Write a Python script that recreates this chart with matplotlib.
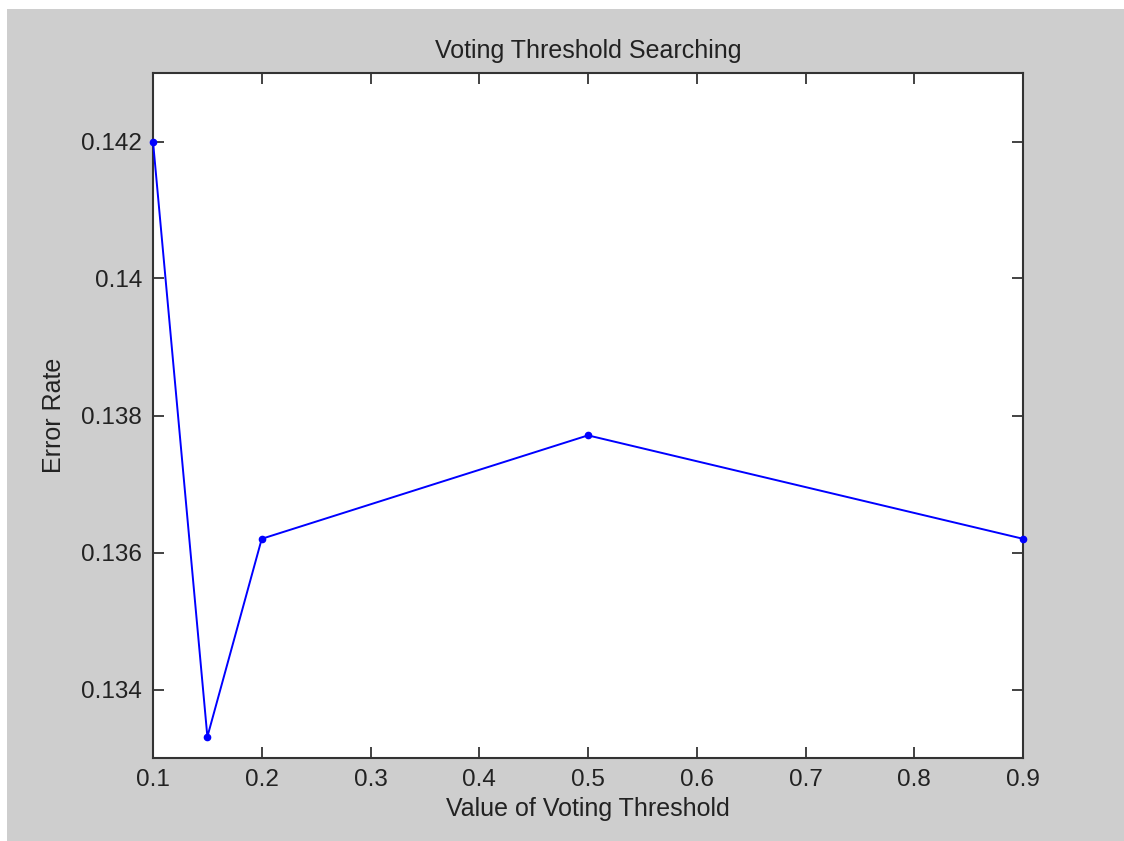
import matplotlib
matplotlib.use("Agg")
import matplotlib.pyplot as plt
from matplotlib.patches import Rectangle

thresholds = [0.1, 0.15, 0.2, 0.5, 0.9]
error_rate = [0.1420, 0.13331, 0.13620, 0.13771, 0.13620]
xticks = [0.1, 0.2, 0.3, 0.4, 0.5, 0.6, 0.7, 0.8, 0.9]
yticks = [0.134, 0.136, 0.138, 0.140, 0.142]
ytick_labels = ["0.134", "0.136", "0.138", "0.14", "0.142"]

W, H = 1124, 841
fig = plt.figure(figsize=(W / 100, H / 100), dpi=100, facecolor="white")
plt.rcParams['font.family'] = ['Liberation Sans', 'DejaVu Sans']

# gray background (MATLAB-style) with a thin white margin top/left
fig.patches.append(Rectangle((7 / W, 0), 1 - 7 / W, 1 - 9 / H,
                             transform=fig.transFigure, facecolor="#cecece",
                             edgecolor="none", zorder=-10))

left, right, top, bottom = 153, 1023, 73, 758
ax = fig.add_axes([left / W, 1 - bottom / H, (right - left) / W, (bottom - top) / H])
ax.set_facecolor("white")

ax.plot(thresholds, error_rate, color="#0000ff", linewidth=1.4,
        marker='o', markersize=4.5, clip_on=False, zorder=5)

ax.set_xlim(0.1, 0.9)
ax.set_ylim(0.133, 0.143)
ax.set_xticks(xticks)
ax.set_xticklabels([f"{v:g}" for v in xticks])
ax.set_yticks(yticks)
ax.set_yticklabels(ytick_labels)
ax.tick_params(direction="in", length=8, width=1.2, top=True, right=True,
               labelsize=17.5, colors="#222222", pad=8)
for s in ax.spines.values():
    s.set_linewidth(1.5)
    s.set_color("#333333")

ax.set_title("Voting Threshold Searching", fontsize=18, color="#222222", pad=11)
ax.set_xlabel("Value of Voting Threshold", fontsize=18, color="#222222", labelpad=4)
ax.set_ylabel("Error Rate", fontsize=18, color="#222222", labelpad=11)

fig.savefig("out.png", dpi=100, facecolor=fig.get_facecolor())
